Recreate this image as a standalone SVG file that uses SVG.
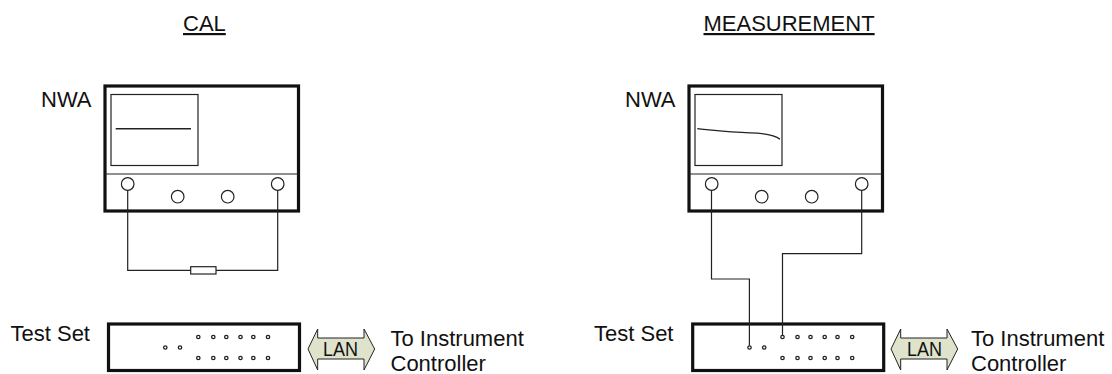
<svg xmlns="http://www.w3.org/2000/svg" width="1112" height="374" viewBox="0 0 1112 374">
<style>
text{font-family:"Liberation Sans",Arial,sans-serif;font-size:22px;fill:#111}
.f{fill:#fff;stroke:#111;stroke-width:3.2}
.l{fill:none;stroke:#222;stroke-width:1.2}
.c{fill:#fff;stroke:#222;stroke-width:1.2}
.d{fill:#fff;stroke:#222;stroke-width:1.3}
.a{fill:#dfe3cc;stroke:#222;stroke-width:1}
.s{font-size:20px}
</style>
<defs>
<g id="nwa"><rect class="f" x="0" y="0" width="193.5" height="125"/><path class="l" d="M0 88H193.500"/><rect class="l" x="6" y="8.500" width="87" height="71"/><circle class="c" cx="22.700" cy="98" r="6.300"/><circle class="c" cx="72.700" cy="110.700" r="6.300"/><circle class="c" cx="122.700" cy="110.700" r="6.300"/><circle class="c" cx="172.700" cy="98" r="6.300"/></g>
<g id="ts"><rect class="f" x="0" y="0" width="191" height="46.500"/>
<g class="d"><circle cx="56.800" cy="23.500" r="1.700"/><circle cx="71.500" cy="23.500" r="1.700"/>
<circle cx="89.800" cy="13" r="1.700"/><circle cx="104.800" cy="13" r="1.700"/><circle cx="117.800" cy="13" r="1.700"/><circle cx="132" cy="13" r="1.700"/><circle cx="144.800" cy="13" r="1.700"/><circle cx="159.500" cy="13" r="1.700"/>
<circle cx="89.800" cy="34" r="1.700"/><circle cx="104.800" cy="34" r="1.700"/><circle cx="117.800" cy="34" r="1.700"/><circle cx="132" cy="34" r="1.700"/><circle cx="144.800" cy="34" r="1.700"/><circle cx="159.500" cy="34" r="1.700"/></g></g>
<path id="arr" class="a" d="M0 25L9.700 5V14H56V5L66.700 25L56 46V35H9.700V46Z"/>
</defs>
<g id="cal-title"><text x="183" y="31" text-decoration="underline">CAL</text></g>
<g id="meas-title"><text x="703.500" y="31" text-decoration="underline">MEASUREMENT</text></g>
<g id="nwa-left"><text x="41" y="107">NWA</text><use href="#nwa" x="105" y="86"/><path class="l" d="M115.700 128.700H191" style="stroke-width:1.500"/></g>
<g id="nwa-right"><text x="625" y="107">NWA</text><use href="#nwa" x="689" y="86"/><path class="l" d="M697.300 128.700C720 131 732 132.500 750 132.800C765 133.200 775 135 780 139.300"/></g>
<g id="testset-left"><text x="10.500" y="341">Test Set</text><use href="#ts" x="108.500" y="324"/></g>
<g id="testset-right"><text x="594" y="341">Test Set</text><use href="#ts" x="692.700" y="324"/></g>
<g id="lan-left"><use href="#arr" x="308" y="324"/><text class="s" x="323" y="356" textLength="35" lengthAdjust="spacingAndGlyphs">LAN</text><text x="390.500" y="346">To Instrument</text><text x="390.500" y="371">Controller</text></g>
<g id="lan-right"><use href="#arr" x="891" y="324"/><text class="s" x="907" y="356" textLength="35" lengthAdjust="spacingAndGlyphs">LAN</text><text x="971" y="346">To Instrument</text><text x="971" y="371">Controller</text></g>
<g id="connectors">
<path class="l" d="M127.700 190V270.300H190.700M216 270.300H277.700V190"/>
<rect class="l" x="190.700" y="266.700" width="25.300" height="7.300"/>
<path class="l" d="M711.500 190V279H749.400V345.600"/>
<path class="l" d="M861.700 190V253.700H782.500V335"/>
</g>
</svg>
